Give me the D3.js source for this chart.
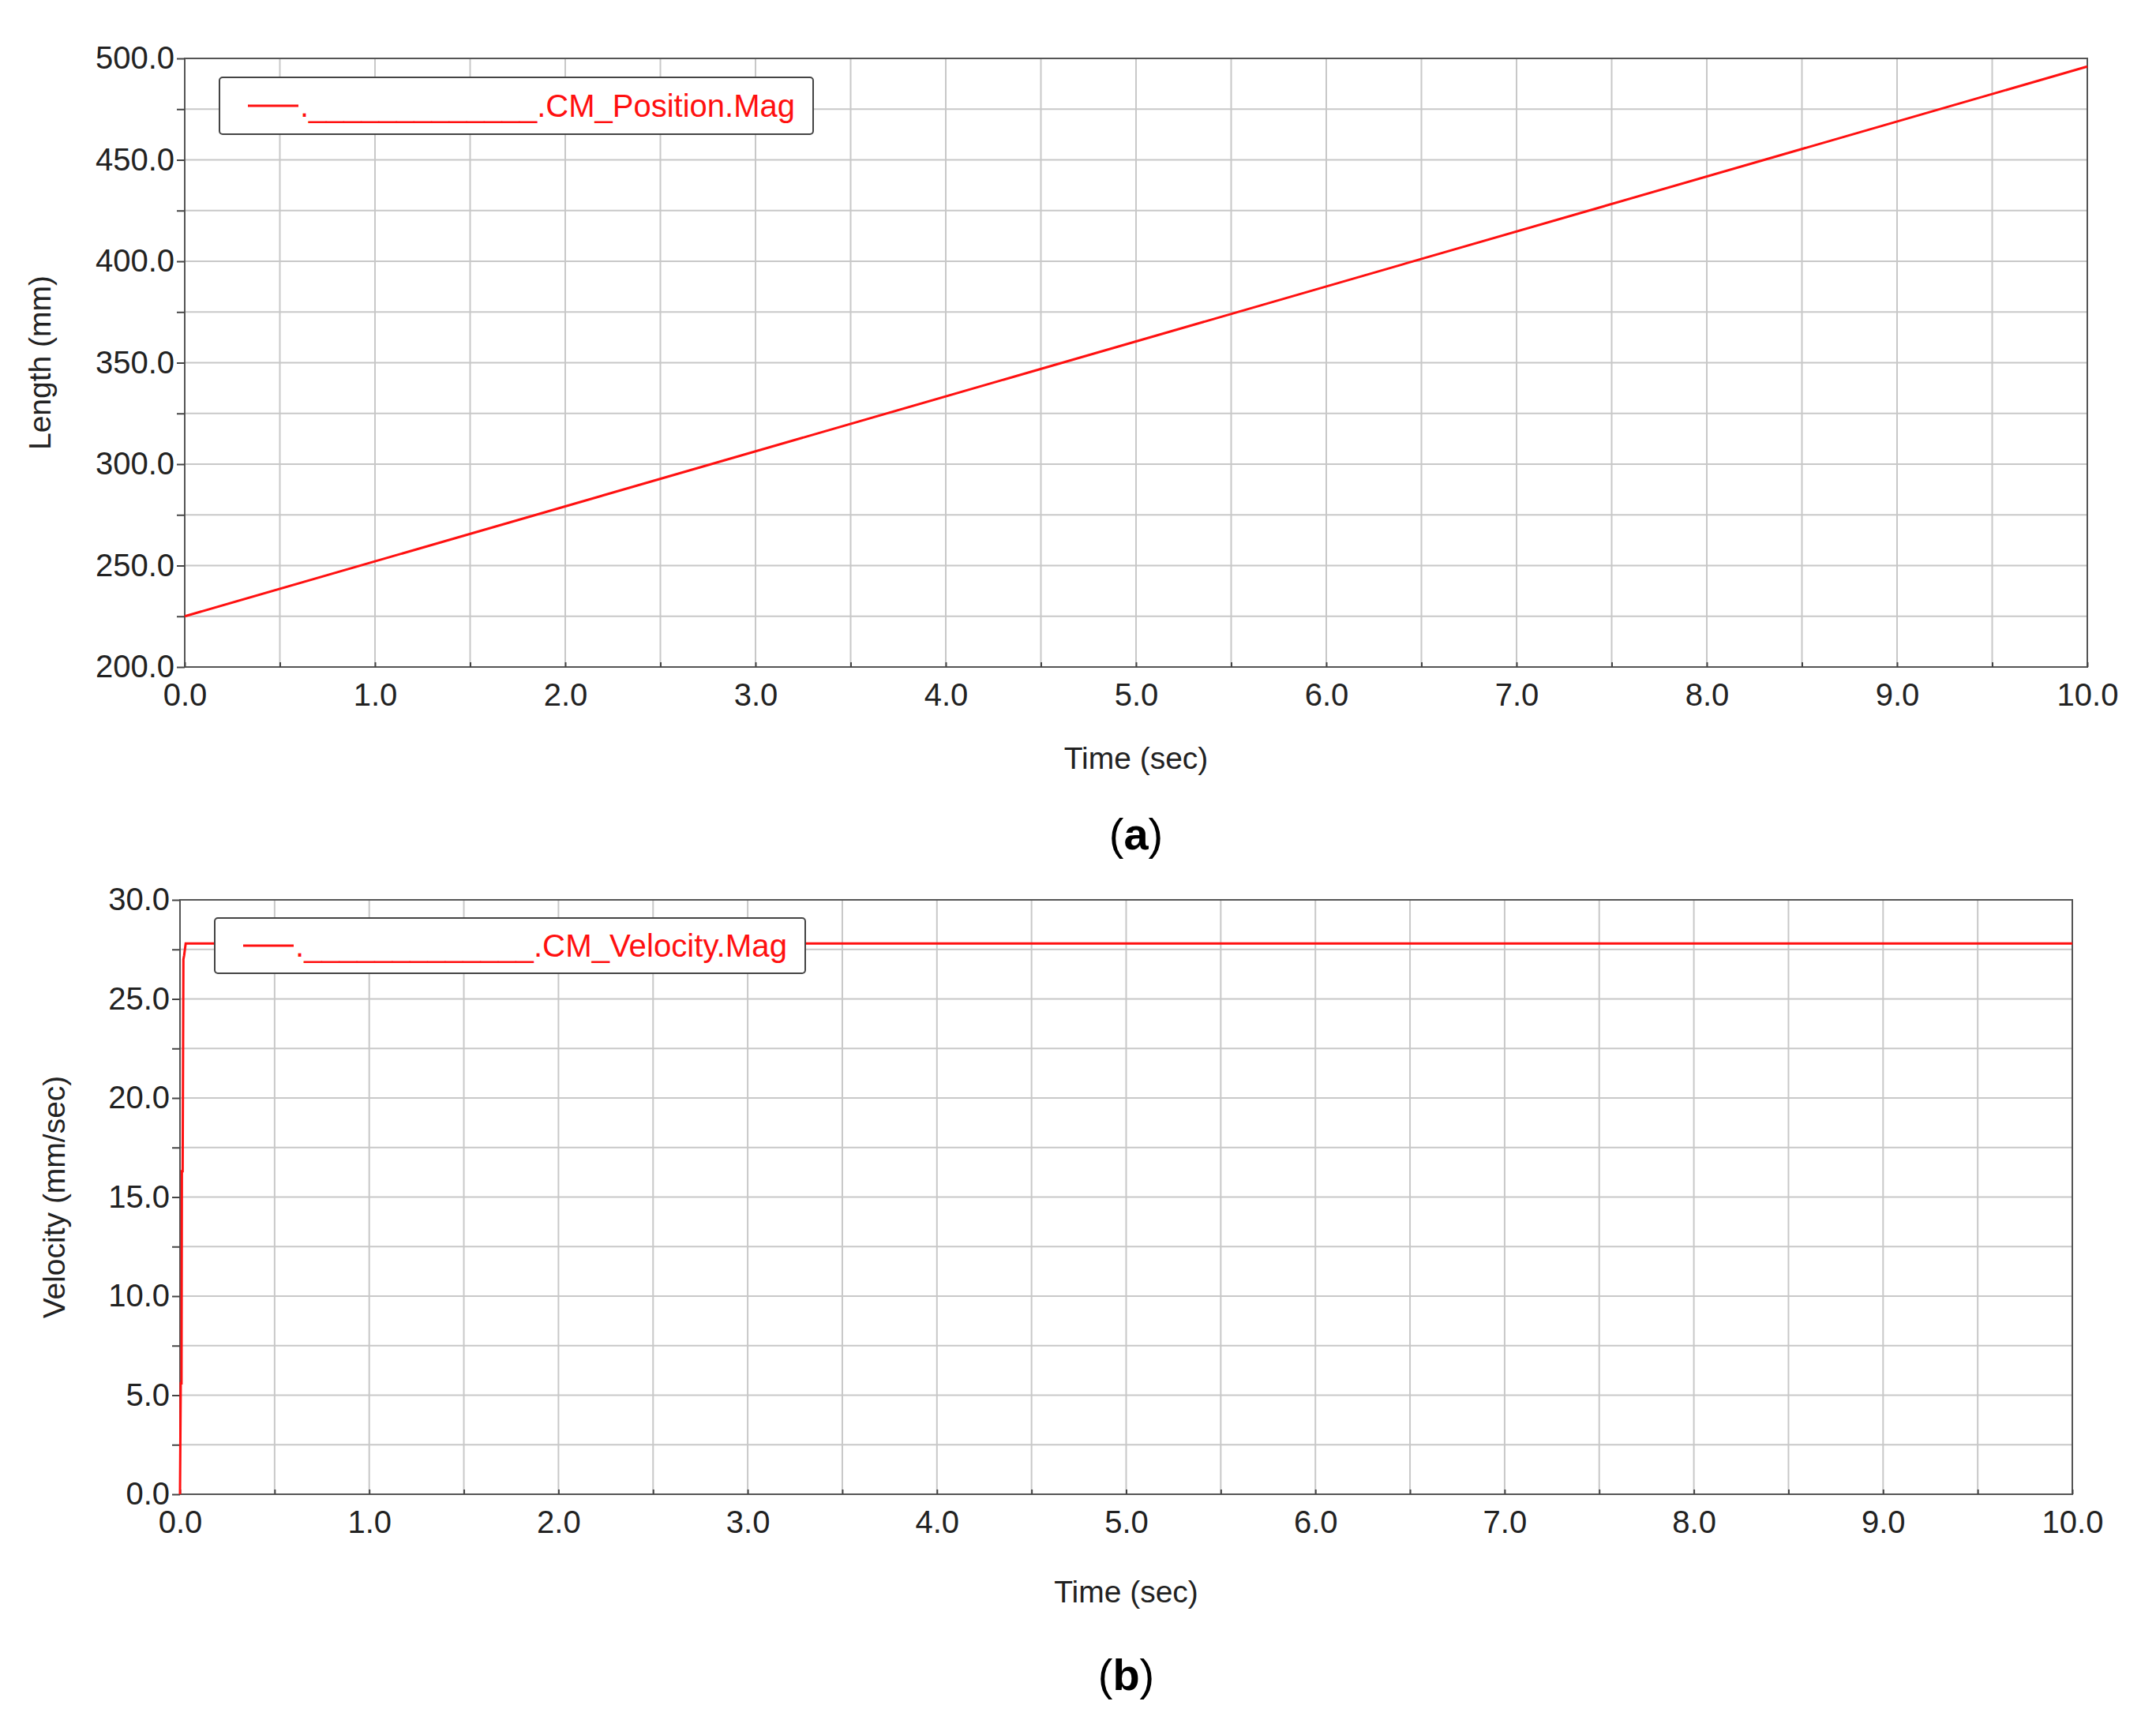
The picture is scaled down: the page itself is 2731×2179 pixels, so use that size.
<!DOCTYPE html>
<html><head><meta charset="utf-8">
<script src="https://cdn.jsdelivr.net/npm/d3@7"></script>
<style>body{margin:0;background:#fff}text{font-family:"Liberation Sans",Arial,sans-serif}</style>
</head><body><svg id="c" width="2731" height="2179"></svg>
<script>
// values
const posTime = [0, 10];
const posValues = [225, 496];
const velTime = [0, 0.004, 0.008, 0.010, 0.014, 0.018, 0.022, 0.03, 10];
const velValues = [0, 5.6, 5.6, 16.3, 16.3, 27, 27.2, 27.8, 27.8];
const xTicks = d3.range(0, 10.01, 1);

const svg = d3.select("#c");

const drawPanel = (cfg) => {
    const x = d3.scaleLinear().domain([0, 10]).range([cfg.left, cfg.right]);
    const y = d3.scaleLinear().domain(cfg.yDomain).range([cfg.bottom, cfg.top]);
    const g = svg.append("g");

    // grid (major + minor)
    const xg = d3.range(0, 10.01, 0.5), yg = d3.range(cfg.yDomain[0], cfg.yDomain[1] + 1e-9, cfg.yMinor);
    g.selectAll(".gx").data(xg).enter().append("line")
        .attr("x1", d => x(d)).attr("x2", d => x(d)).attr("y1", cfg.top).attr("y2", cfg.bottom)
        .attr("stroke", "#c8c8c8").attr("stroke-width", 2);
    g.selectAll(".gy").data(yg).enter().append("line")
        .attr("y1", d => y(d)).attr("y2", d => y(d)).attr("x1", cfg.left).attr("x2", cfg.right)
        .attr("stroke", "#c8c8c8").attr("stroke-width", 2);

    // frame
    g.append("rect").attr("x", cfg.left).attr("y", cfg.top)
        .attr("width", cfg.right - cfg.left).attr("height", cfg.bottom - cfg.top)
        .attr("fill", "none").attr("stroke", "#555").attr("stroke-width", 2);

    // axes
    const xa = g.append("g").attr("transform", `translate(0,${cfg.bottom})`)
        .call(d3.axisBottom(x).tickValues(xg).tickSize(6).tickFormat(d => d % 1 === 0 ? d.toFixed(1) : ""));
    const ya = g.append("g").attr("transform", `translate(${cfg.left},0)`)
        .call(d3.axisLeft(y).tickValues(yg).tickSize(10).tickFormat(d => Math.abs(d / cfg.yMajor - Math.round(d / cfg.yMajor)) < 1e-6 ? d.toFixed(1) : ""));
    [xa, ya].forEach(a => {
        a.select(".domain").remove();
        a.selectAll("line").attr("stroke", "#444").attr("stroke-width", 2);
        a.selectAll("text").attr("font-size", 40).attr("fill", "#222");
    });
    xa.selectAll("line").attr("y1", -6).attr("y2", 0);
    xa.selectAll("text").attr("dy", "1.0em");

    // series
    g.append("path").datum(d3.zip(cfg.xs, cfg.ys))
        .attr("d", d3.line().x(d => x(d[0])).y(d => y(d[1])))
        .attr("fill", "none").attr("stroke", "#ff1010").attr("stroke-width", 3);

    // legend
    const lg = g.append("g");
    lg.append("rect").attr("x", cfg.leg[0]).attr("y", cfg.leg[1]).attr("width", cfg.leg[2]).attr("height", cfg.leg[3])
        .attr("rx", 4).attr("fill", "#fff").attr("stroke", "#444").attr("stroke-width", 2);
    const ly = cfg.leg[1] + cfg.leg[3] / 2;
    lg.append("line").attr("x1", cfg.leg[0] + 36).attr("x2", cfg.leg[0] + 100).attr("y1", ly).attr("y2", ly)
        .attr("stroke", "#ff1010").attr("stroke-width", 3);
    lg.append("text").attr("x", cfg.leg[0] + 102).attr("y", ly + 14).attr("font-size", 41).attr("fill", "#ff1010")
        .attr("textLength", cfg.leg[2] - 125).attr("lengthAdjust", "spacingAndGlyphs")
        .text("._____________" + cfg.name);

    // titles
    g.append("text").attr("x", (cfg.left + cfg.right) / 2).attr("y", cfg.xTitleY).attr("text-anchor", "middle")
        .attr("font-size", 39).attr("fill", "#222").text("Time (sec)");
    g.append("text").attr("transform", `translate(${cfg.yTitleX},${(cfg.top + cfg.bottom) / 2}) rotate(-90)`)
        .attr("text-anchor", "middle").attr("font-size", 39).attr("fill", "#222").text(cfg.yTitle);
    const cap = g.append("text").attr("x", (cfg.left + cfg.right) / 2).attr("y", cfg.capY).attr("text-anchor", "middle")
        .attr("font-size", 56).attr("font-family", "Liberation Serif, serif");
    cap.append("tspan").text("(");
    cap.append("tspan").attr("font-weight", "bold").text(cfg.cap);
    cap.append("tspan").text(")");
};

drawPanel({left: 234, right: 2644, top: 74, bottom: 845, yDomain: [200, 500], yMinor: 25, yMajor: 50,
    xs: posTime, ys: posValues, name: ".CM_Position.Mag", leg: [278, 98, 752, 72],
    yTitle: "Length (mm)", yTitleX: 64, xTitleY: 974, capY: 1076, cap: "a"});
drawPanel({left: 228, right: 2625, top: 1140, bottom: 1893, yDomain: [0, 30], yMinor: 2.5, yMajor: 5,
    xs: velTime, ys: velValues, name: ".CM_Velocity.Mag", leg: [272, 1163, 748, 70],
    yTitle: "Velocity (mm/sec)", yTitleX: 82, xTitleY: 2030, capY: 2141, cap: "b"});
</script></body></html>
